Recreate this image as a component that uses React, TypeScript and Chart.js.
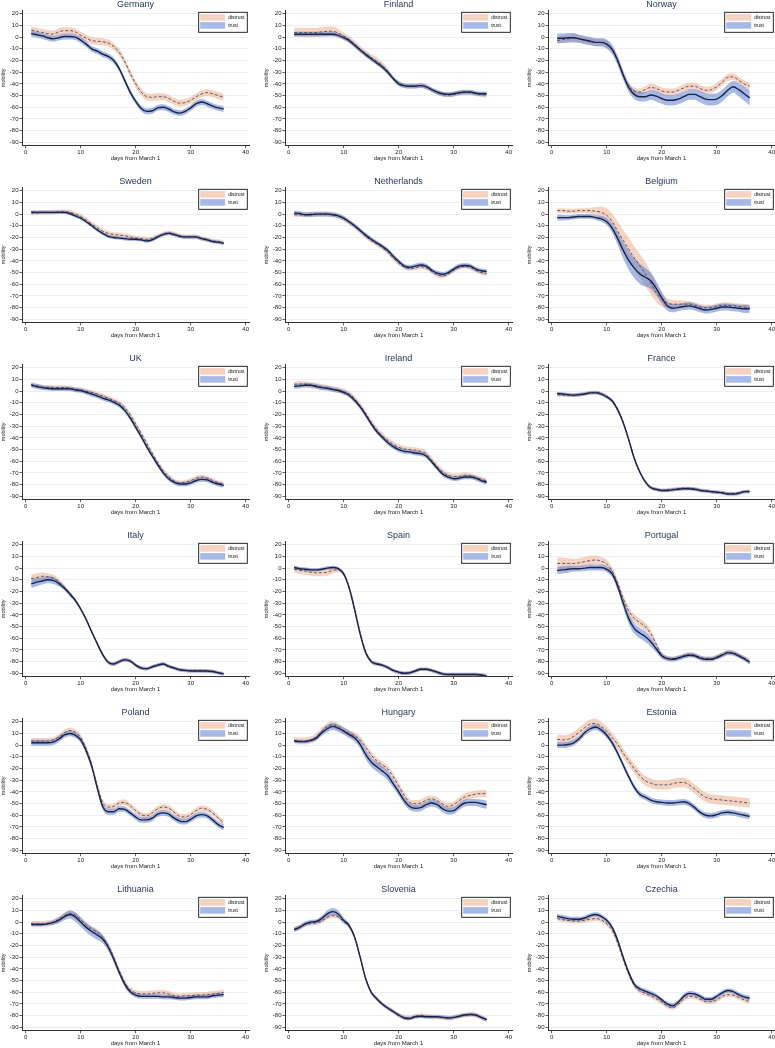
import React, { useEffect, useRef } from "react";
import { Chart, registerables } from "chart.js";

Chart.register(...registerables);

const FONT = "'Liberation Sans', Arial, Helvetica, sans-serif";

const days = [1, 2, 3, 4, 5, 6, 7, 8, 9, 10, 11, 12, 13, 14, 15, 16, 17, 18, 19, 20, 21, 22, 23, 24, 25, 26, 27, 28, 29, 30, 31, 32, 33, 34, 35, 36];
const xTicks = [0, 10, 20, 30, 40];
const yTicks = [20, 10, 0, -10, -20, -30, -40, -50, -60, -70, -80, -90];
const seriesNames = ["distrust", "trust"];

const countries = ["Germany", "Finland", "Norway", "Sweden", "Netherlands", "Belgium", "UK", "Ireland", "France", "Italy", "Spain", "Portugal", "Poland", "Hungary", "Estonia", "Lithuania", "Slovenia", "Czechia"];

// ---- Germany
const germanyTrust = [3, 2, 1, -0.5, -1.5, -0.5, 0.5, 0.5, 0, -2.5, -6, -10, -12, -14.5, -16.5, -20, -27, -37, -47, -55, -61, -63.5, -63, -60.5, -60, -61.5, -64, -65, -63.5, -60.5, -57, -55.5, -57, -59, -60.5, -61.5];
const germanyDistrust = [6, 5, 4, 3, 2.5, 4.5, 5.5, 5.5, 4.5, 1.5, -1, -3, -3.5, -4, -5, -8, -13, -21, -31, -40, -47, -51, -51.5, -51, -51, -52.5, -55, -56.5, -56, -54, -51, -48.5, -47.5, -48.5, -50, -51.5];
const germanyTrustCi = 2.5;
const germanyDistrustCi = 3;

// ---- Finland
const finlandTrust = [2.5, 2.5, 2.5, 2.5, 2.5, 2.5, 2.5, 2.5, 1.5, -0.5, -3, -7, -11, -15, -18.5, -22, -25.5, -30, -35.5, -40, -41.5, -42, -42, -41.5, -42.5, -45, -47, -48.5, -49, -48.5, -47.5, -47, -47, -48, -48.5, -48.5];
const finlandDistrust = [4, 4, 4, 4, 4, 4.5, 5, 5, 3.5, 1, -2, -6, -10.5, -14, -17.5, -20.5, -24, -29, -35, -39, -41.5, -42, -42, -41.5, -42.5, -45, -47.5, -49, -49.5, -49, -48, -47.5, -47.5, -48.5, -49, -49.5];
const finlandTrustCi = 2;
const finlandDistrustCi = [4, 4, 4, 4, 4, 4, 4, 4, 3.5, 3, 3, 3, 3, 3, 3, 3, 3, 2.5, 2, 2, 2, 2, 2, 2, 2, 2, 2, 2, 2, 2, 2, 2, 2, 2, 2, 2.5];

// ---- Norway
const norwayTrust = [-1, -1, -0.5, -0.5, -1.5, -2.5, -3.5, -4.5, -4.5, -6, -10.5, -20, -32.5, -43, -49, -51, -51, -49.5, -50.5, -52.5, -54, -54, -53, -51, -49, -49, -51, -53, -53.5, -53, -50, -45.5, -42.5, -45, -48.5, -52];
const norwayDistrust = [-3, -2, -1.5, -0.5, -1.5, -2.5, -3.5, -4.5, -4.5, -6, -11, -20.5, -32.5, -42, -46, -47, -45, -43, -44, -46, -47, -47, -45.5, -43.5, -42, -42, -44, -45.5, -45, -42.5, -38.5, -34.5, -34, -37, -40, -42];
const norwayTrustCi = [4, 4, 4, 4, 3.5, 3.5, 3.5, 3.5, 3.5, 4, 4, 4, 4, 4, 4, 4, 4, 4, 4.5, 4.5, 4.5, 4.5, 4.5, 4.5, 4.5, 4.5, 5, 5, 5, 5, 5, 5, 5, 5.5, 6, 6.5];
const norwayDistrustCi = 3;

// ---- Sweden
const swedenTrust = [1.7, 1.5, 1.5, 1.5, 1.5, 1.5, 1.5, 0.5, -1.5, -3.5, -6.5, -10, -13.5, -16.5, -19, -20, -20.5, -21, -21.5, -21.5, -22, -23, -22, -19.5, -17.5, -16.5, -17.5, -19, -19.5, -19.5, -19.5, -21, -22, -23.5, -24, -25];
const swedenDistrust = [1, 1, 1.5, 1.5, 1.5, 2, 2, 1.5, 0, -2, -5, -8.5, -11.5, -14.5, -16.5, -17.5, -18, -18.5, -19.5, -20.5, -21, -21.5, -21, -19, -17, -16, -17, -18.5, -19.5, -19.5, -19.5, -21, -22, -23, -23.5, -24.5];
const swedenTrustCi = 1.5;
const swedenDistrustCi = 2;

// ---- Netherlands
const netherlandsTrust = [1, 0.5, -0.5, -0.5, 0, 0, 0, -0.5, -1.5, -3.5, -6.5, -10, -14, -18, -21.5, -24.5, -27.5, -31, -36, -40.5, -44.5, -45.5, -44.5, -43.5, -44.5, -48, -50.5, -51.5, -50, -47, -44.5, -44, -44.5, -47, -48.5, -49];
const netherlandsDistrust = [-0.5, -0.5, -0.5, 0, 0, 0, 0, -0.5, -1.5, -4, -7, -10.5, -14.5, -19, -22.5, -25.5, -28.5, -32.5, -37.5, -42, -45, -46.5, -46, -45, -46, -49, -52, -53, -51, -48, -45.5, -44.5, -45.5, -48, -50, -51];
const netherlandsTrustCi = 2;
const netherlandsDistrustCi = 2;

// ---- Belgium
const belgiumTrust = [-3, -3, -3, -2.5, -2, -2, -2, -3, -4, -6.5, -12, -21, -31, -39.5, -46, -51, -54, -57, -63.5, -71.5, -78.5, -80.5, -80, -79, -78.5, -79.5, -81, -82, -81.5, -80.5, -79.5, -79.5, -80, -80.5, -81, -81];
const belgiumDistrust = [3, 3, 2.5, 2.5, 3, 3, 3, 2.5, 1.5, -1, -6.5, -14.5, -22.5, -30, -37.5, -44, -51, -59, -67, -73, -76, -77, -77, -77, -77, -78, -79.5, -80, -80, -79, -78, -78, -78.5, -79, -79.5, -80];
const belgiumTrustCi = [2.5, 2.5, 2, 2, 2, 2, 2, 2, 2.5, 3, 4, 5.5, 7, 8, 8.5, 8.5, 8, 7, 6, 5, 4, 3.5, 3, 3, 3, 3, 3, 3, 3, 3, 3, 3, 3, 3, 3.5, 3.5];
const belgiumDistrustCi = [2, 2, 2, 2, 2, 2, 2.5, 3.5, 5, 6, 7, 8, 9, 9.5, 10, 10, 10, 9.5, 8, 6, 4, 3.5, 3, 3, 2.5, 2.5, 2.5, 2.5, 2.5, 2.5, 2.5, 2.5, 2.5, 2.5, 2.5, 2.5];

// ---- UK
const ukTrust = [5, 4, 3, 2.5, 2, 2, 2, 2, 1, 0.5, -1, -2.5, -4, -6, -7.5, -9.5, -12, -16.5, -23, -31, -39, -47.5, -55.5, -63, -70, -75, -78, -79.5, -79.5, -78.5, -76.5, -75.5, -76, -78, -79.5, -80.5];
const ukDistrust = [5.5, 4.5, 3.5, 3, 3, 3, 3, 2.5, 1.5, 1, 0, -1, -2.5, -4, -6, -8, -10, -14, -20, -28, -36, -44.5, -53, -61, -68, -73, -77, -78.5, -78, -76.5, -74.5, -73.5, -74.5, -76.5, -78.5, -80];
const ukTrustCi = 2;
const ukDistrustCi = 2;

// ---- Ireland
const irelandTrust = [4, 4.5, 5, 5, 4, 3, 2.5, 1.5, 0.5, -1, -3.5, -8, -13.5, -20.5, -28, -34.5, -39.5, -44, -47.5, -50, -51.5, -52, -53, -53.5, -55.5, -60.5, -66, -71, -73.5, -75, -74.5, -73.5, -73.5, -74.5, -76.5, -78];
const irelandDistrust = [6, 6, 6, 5, 4.5, 3.5, 2.5, 1.5, 1, -0.5, -2.5, -6.5, -12.5, -19, -26.5, -33, -38, -42, -45.5, -48, -49.5, -50, -50.5, -51.5, -53.5, -59, -64.5, -69, -72, -73, -73, -72, -72.5, -74, -75.5, -77];
const irelandTrustCi = 2;
const irelandDistrustCi = 2.5;

// ---- France
const franceTrust = [-2, -2.5, -3, -3.5, -3, -2.5, -1.5, -1.5, -2.5, -5, -8.5, -16, -27, -41.5, -57.5, -69, -77.5, -82.5, -84, -85, -85, -84.5, -84, -83.5, -83.5, -84, -85, -85.5, -86, -86.5, -87, -88, -88, -87.5, -86, -86];
const franceDistrust = [-3, -3.5, -3.5, -3.5, -3, -2.5, -1.5, -1, -2, -4.5, -8, -15.5, -26.5, -41, -57, -69, -77.5, -82.5, -84, -85, -84.5, -84, -83.5, -83, -83, -83.5, -84.5, -85.5, -86, -86.5, -87, -87.5, -87.5, -87, -86, -85.5];
const franceTrustCi = 1.5;
const franceDistrustCi = 1.5;

// ---- Italy
const italyTrust = [-13.5, -12, -11, -10, -10.5, -13, -17, -22, -27.5, -35, -44, -54.5, -64.5, -74, -80.5, -82, -80, -78.5, -79.5, -83, -85.5, -86, -84.5, -83, -82, -84, -85.5, -87, -87.5, -88, -88, -88, -88, -88.5, -89.5, -90.5];
const italyDistrust = [-9, -8, -7, -7.5, -8.5, -11.5, -16, -21.5, -27.5, -35, -44, -54.5, -64.5, -74, -80.5, -82, -80, -78.5, -79.5, -83, -85.5, -86, -84.5, -83, -82, -84, -85.5, -87, -87.5, -87.5, -87.5, -87.5, -88, -88.5, -89.5, -90.5];
const italyTrustCi = [3.5, 3.5, 3, 3, 3, 2.5, 2, 2, 1.5, 1.5, 1.5, 1.5, 1.5, 1.5, 1.5, 1.5, 1.5, 1.5, 1.5, 1.5, 1.5, 1.5, 1.5, 1.5, 1.5, 1.5, 1.5, 1.5, 1.5, 1.5, 1.5, 1.5, 1.5, 1.5, 1.5, 1.5];
const italyDistrustCi = [3.5, 3.5, 3.5, 3, 3, 2.5, 2, 2, 1.5, 1.5, 1.5, 1.5, 1.5, 1.5, 1.5, 1.5, 1.5, 1.5, 1.5, 1.5, 1.5, 1.5, 1.5, 1.5, 1.5, 1.5, 1.5, 1.5, 1.5, 1.5, 1.5, 1.5, 1.5, 1.5, 1.5, 1.5];

// ---- Spain
const spainTrust = [0.5, -0.5, -1, -1.5, -1.5, -1, 0, 0.5, -0.5, -5, -17, -36, -56.5, -72.5, -80, -82, -83, -85, -87.5, -89, -90, -89.5, -88, -86.5, -86.5, -87.5, -89, -90.5, -91, -91, -91, -91, -91, -91, -91.5, -92.5];
const spainDistrust = [-1, -2, -2.5, -3.5, -4, -4, -3.5, -2, -1.5, -5, -16.5, -34.5, -55, -71, -79.5, -81.5, -83, -85, -87.5, -89, -90, -89.5, -88, -86.5, -86.5, -87.5, -89, -90.5, -91, -91, -91, -91, -91, -91, -91.5, -92.5];
const spainTrustCi = 1.5;
const spainDistrustCi = [3, 3, 3, 3, 3, 3, 3, 2.5, 2, 2, 2, 2, 2, 2, 2, 1.5, 1.5, 1.5, 1.5, 1.5, 1.5, 1.5, 1.5, 1.5, 1.5, 1.5, 1.5, 1.5, 1.5, 1.5, 1.5, 1.5, 1.5, 1.5, 1.5, 1.5];

// ---- Portugal
const portugalTrust = [-2, -1.5, -1, -0.5, -0.5, 0, 0.5, 0.5, 0.5, -1, -5, -15.5, -30, -43, -51.5, -55.5, -58.5, -63, -69, -75, -77.5, -78, -77, -75.5, -74.5, -75, -77, -78, -78, -76.5, -74.5, -72.5, -73, -75, -77.5, -80.5];
const portugalDistrust = [4, 4, 4, 4, 4.5, 5.5, 6.5, 7, 6, 3.5, -2.5, -13, -26, -36.5, -43, -46.5, -50, -56, -65, -74, -77, -77.5, -76.5, -75, -74, -74.5, -76.5, -77.5, -77.5, -76, -74, -72, -72.5, -74.5, -77, -80];
const portugalTrustCi = [3, 3, 3, 2.5, 2.5, 2.5, 2.5, 2.5, 2.5, 2.5, 3, 3.5, 4, 4.5, 4.5, 4.5, 4.5, 4, 3, 2.5, 2, 2, 2, 2, 2, 2, 2, 2, 2, 2, 2, 2, 2, 2, 2, 2];
const portugalDistrustCi = [5, 5, 4.5, 4, 4, 4, 4, 3.5, 3.5, 3.5, 3.5, 3.5, 3.5, 3.5, 3.5, 3.5, 3.5, 3, 2.5, 2, 2, 2, 2, 2, 2, 2, 2, 2, 2, 2, 2, 2, 2, 2, 2, 2];

// ---- Poland
const polandTrust = [2, 2, 2, 2, 2.5, 5, 8.5, 10, 8.5, 4.5, -5, -18, -36.5, -52.5, -57, -57, -54.5, -55, -58, -61.5, -64, -64, -62.5, -59, -58, -59, -62.5, -65, -65.5, -63.5, -60.5, -59.5, -60.5, -64, -68, -70.5];
const polandDistrust = [3.5, 3.5, 3.5, 3.5, 4.5, 7, 10.5, 12.5, 11, 6.5, -3, -16.5, -34.5, -49, -53, -52.5, -49.5, -49, -52, -56, -59.5, -60.5, -58, -54.5, -53, -54, -57.5, -61, -61.5, -59.5, -56, -54, -55, -58, -62.5, -66.5];
const polandTrustCi = 2.5;
const polandDistrustCi = 2.5;

// ---- Hungary
const hungaryTrust = [3.5, 3, 3, 4, 6, 10.5, 14, 16, 14.5, 12, 9, 6, 0.5, -8, -14.5, -18.5, -22, -26, -33, -40, -47.5, -52.5, -54, -53.5, -51, -49.5, -51, -54.5, -56.5, -56, -52.5, -49.5, -49, -49, -50, -51];
const hungaryDistrust = [4, 3.5, 3.5, 4.5, 7, 12, 16, 17.5, 16, 12.5, 10, 8, 4.5, -2, -8.5, -13.5, -17, -20.5, -27, -35, -43, -49, -50, -49.5, -47, -46, -47.5, -50.5, -52.5, -51, -47.5, -44.5, -43, -42, -41.5, -41.5];
const hungaryTrustCi = [1.5, 1.5, 1.5, 1.5, 2, 2.5, 3, 3, 3, 3, 3, 3, 3.5, 4, 4, 4, 4, 4, 3.5, 3, 3, 3, 3, 3, 3, 3, 3, 3, 3, 3, 3, 3, 3, 3, 3.5, 3.5];
const hungaryDistrustCi = 3;

// ---- Estonia
const estoniaTrust = [0, 0, 0.5, 2, 5.5, 10.5, 14, 15.5, 13, 8.5, 2, -7, -17, -27, -36, -42, -44.5, -47, -48.5, -49, -49.5, -49.5, -49, -48.5, -50, -53.5, -57.5, -60, -60.5, -59.5, -58, -57.5, -58, -59, -60, -61];
const estoniaDistrust = [5, 4.5, 5, 7.5, 11, 15, 18, 18.5, 16, 12, 6.5, 0.5, -7, -13.5, -20, -26, -30.5, -32.5, -34, -34, -34, -33, -32, -32, -34, -37.5, -41.5, -44.5, -46, -46.5, -47, -47.5, -48, -48.5, -49, -49.5];
const estoniaTrustCi = 2.5;
const estoniaDistrustCi = 4;

// ---- Lithuania
const lithuaniaTrust = [-2, -2, -2, -1.5, -0.5, 1.5, 4.5, 6.5, 4.5, 0, -4.5, -8, -11, -14.5, -21.5, -31.5, -43, -53, -59.5, -62.5, -63.5, -63.5, -63.5, -63.5, -64, -64, -64.5, -65, -65, -64.5, -64, -64, -64, -63, -62.5, -62];
const lithuaniaDistrust = [-1.5, -1.5, -1.5, -1, 0, 2.5, 5.5, 7.5, 6, 2, -2.5, -6, -8.5, -13, -20, -30, -41.5, -51.5, -58, -60.5, -61.5, -61.5, -61, -60.5, -60.5, -61.5, -63, -63.5, -63, -63, -62.5, -62.5, -62, -61.5, -61, -60];
const lithuaniaTrustCi = [1.5, 1.5, 1.5, 1.5, 2, 2.5, 3, 3.5, 4, 4, 4, 4, 4, 3.5, 3, 3, 2.5, 2.5, 2, 2, 2, 2, 2, 2, 2, 2, 2, 2, 2, 2, 2, 2, 2, 2, 2, 2];
const lithuaniaDistrustCi = 2.5;

// ---- Slovenia
const sloveniaTrust = [-6.5, -4.5, -1.5, 0, 0.5, 3, 7, 9, 7, 1.5, -3, -13, -30, -48.5, -60, -65.5, -70, -73.5, -76.5, -79.5, -82, -82.5, -81, -80.5, -81, -81, -81, -81.5, -82, -81.5, -80.5, -79.5, -79, -79.5, -81.5, -83.5];
const sloveniaDistrust = [-6, -4, -2, -1, -0.5, 1, 4, 5.5, 4.5, 0.5, -3.5, -13.5, -30.5, -48.5, -60, -65.5, -70, -73.5, -76.5, -79.5, -81.5, -82, -80.5, -80, -80.5, -81, -81, -81.5, -82, -81.5, -80.5, -79.5, -79, -79.5, -81.5, -83.5];
const sloveniaTrustCi = [2, 2, 2, 2, 2, 2.5, 3, 3, 3, 2.5, 2, 1.5, 1.5, 1.5, 1.5, 1.5, 1.5, 1.5, 1.5, 1.5, 1.5, 1.5, 1.5, 1.5, 1.5, 1.5, 1.5, 1.5, 1.5, 1.5, 1.5, 1.5, 1.5, 1.5, 1.5, 1.5];
const sloveniaDistrustCi = 2;

// ---- Czechia
const czechiaTrust = [5, 4, 3, 2.5, 2.5, 3.5, 5.5, 6.5, 5, 1.5, -4.5, -15.5, -30, -43, -53, -57, -59, -61, -63, -66.5, -70, -71.5, -68.5, -63.5, -61, -61.5, -63.5, -66, -66, -63.5, -60.5, -58.5, -59.5, -62, -64, -65];
const czechiaDistrust = [3, 2, 1.5, 1, 1, 1.5, 2.5, 3, 2, -1.5, -7, -18, -32, -44.5, -54, -59, -61, -63, -65.5, -68.5, -72, -73, -70.5, -66, -63.5, -64, -66, -68, -68, -66.5, -63.5, -62, -62.5, -64.5, -66.5, -68];
const czechiaTrustCi = 2;
const czechiaDistrustCi = 2;

type Ci = number | number[];
type PanelData = { trust: number[]; distrust: number[]; trustCi: Ci; distrustCi: Ci };

const panelData: PanelData[] = [
  { trust: germanyTrust, distrust: germanyDistrust, trustCi: germanyTrustCi, distrustCi: germanyDistrustCi },
  { trust: finlandTrust, distrust: finlandDistrust, trustCi: finlandTrustCi, distrustCi: finlandDistrustCi },
  { trust: norwayTrust, distrust: norwayDistrust, trustCi: norwayTrustCi, distrustCi: norwayDistrustCi },
  { trust: swedenTrust, distrust: swedenDistrust, trustCi: swedenTrustCi, distrustCi: swedenDistrustCi },
  { trust: netherlandsTrust, distrust: netherlandsDistrust, trustCi: netherlandsTrustCi, distrustCi: netherlandsDistrustCi },
  { trust: belgiumTrust, distrust: belgiumDistrust, trustCi: belgiumTrustCi, distrustCi: belgiumDistrustCi },
  { trust: ukTrust, distrust: ukDistrust, trustCi: ukTrustCi, distrustCi: ukDistrustCi },
  { trust: irelandTrust, distrust: irelandDistrust, trustCi: irelandTrustCi, distrustCi: irelandDistrustCi },
  { trust: franceTrust, distrust: franceDistrust, trustCi: franceTrustCi, distrustCi: franceDistrustCi },
  { trust: italyTrust, distrust: italyDistrust, trustCi: italyTrustCi, distrustCi: italyDistrustCi },
  { trust: spainTrust, distrust: spainDistrust, trustCi: spainTrustCi, distrustCi: spainDistrustCi },
  { trust: portugalTrust, distrust: portugalDistrust, trustCi: portugalTrustCi, distrustCi: portugalDistrustCi },
  { trust: polandTrust, distrust: polandDistrust, trustCi: polandTrustCi, distrustCi: polandDistrustCi },
  { trust: hungaryTrust, distrust: hungaryDistrust, trustCi: hungaryTrustCi, distrustCi: hungaryDistrustCi },
  { trust: estoniaTrust, distrust: estoniaDistrust, trustCi: estoniaTrustCi, distrustCi: estoniaDistrustCi },
  { trust: lithuaniaTrust, distrust: lithuaniaDistrust, trustCi: lithuaniaTrustCi, distrustCi: lithuaniaDistrustCi },
  { trust: sloveniaTrust, distrust: sloveniaDistrust, trustCi: sloveniaTrustCi, distrustCi: sloveniaDistrustCi },
  { trust: czechiaTrust, distrust: czechiaDistrust, trustCi: czechiaTrustCi, distrustCi: czechiaDistrustCi },
];

const PANEL_W = 263;
const PANEL_H = 177;
const DISTRUST_FILL = "rgba(230,150,112,0.42)";
const TRUST_FILL = "rgba(95,128,210,0.55)";
const TRUST_LINE = "#1a2344";
const DISTRUST_LINE = "#3b3b46";
const TEXT = "#222";
const TITLE = "#1f3350";

const ciAt = (ci: Ci, i: number) => (Array.isArray(ci) ? ci[i] : ci);

function Panel({ title, data, left, top }: { title: string; data: PanelData; left: number; top: number }) {
  const ref = useRef<HTMLCanvasElement>(null);
  useEffect(() => {
    const canvas = ref.current;
    if (!canvas) return;
    const mean = (arr: number[]) => days.map((d, i) => ({ x: d, y: arr[i] }));
    const band = (arr: number[], ci: Ci, s: number) => days.map((d, i) => ({ x: d, y: arr[i] + s * ciAt(ci, i) }));
    const common = { pointRadius: 0, cubicInterpolationMode: "monotone" as const };
    const decor = {
      id: "decor",
      afterDraw(chart: any) {
        const ctx = chart.ctx;
        const ca = chart.chartArea;
        ctx.save();
        // title
        ctx.fillStyle = TITLE;
        ctx.font = `9px ${FONT}`;
        ctx.textAlign = "center";
        ctx.textBaseline = "middle";
        ctx.fillText(title, (ca.left + ca.right) / 2, 4.5);
        // x title
        ctx.fillStyle = TEXT;
        ctx.font = `6px ${FONT}`;
        ctx.fillText("days from March 1", (ca.left + ca.right) / 2, 158);
        // y title
        ctx.save();
        ctx.translate(3.3, (ca.top + ca.bottom) / 2);
        ctx.rotate(-Math.PI / 2);
        ctx.font = `5.5px ${FONT}`;
        ctx.fillText("mobility", 0, 0);
        ctx.restore();
        // legend
        const bx = ca.right - 50.3;
        const by = ca.top + 2.3;
        const bw = 48.6;
        const bh = 20;
        ctx.fillStyle = "#fff";
        ctx.fillRect(bx, by, bw, bh);
        ctx.strokeStyle = "#111";
        ctx.lineWidth = 0.9;
        ctx.strokeRect(bx, by, bw, bh);
        const fills = [DISTRUST_FILL, TRUST_FILL];
        ctx.font = `5px ${FONT}`;
        ctx.textAlign = "left";
        seriesNames.forEach((name, k) => {
          const sy = by + 1.8 + k * 8;
          ctx.fillStyle = fills[k];
          ctx.fillRect(bx + 1.5, sy, 25, 6.6);
          ctx.fillStyle = "#111";
          ctx.fillText(name, bx + 29.5, sy + 3.4);
        });
        ctx.restore();
      },
    };
    const chart = new Chart(canvas, {
      type: "line",
      data: {
        datasets: [
          { ...common, label: "trust", data: mean(data.trust), borderColor: TRUST_LINE, borderWidth: 1.4, fill: false },
          { ...common, label: "distrust", data: mean(data.distrust), borderColor: DISTRUST_LINE, borderWidth: 0.8, borderDash: [3, 2], fill: false },
          { ...common, label: "trustHi", data: band(data.trust, data.trustCi, 1), borderWidth: 0, borderColor: "rgba(0,0,0,0)", backgroundColor: TRUST_FILL, fill: "+1" },
          { ...common, label: "trustLo", data: band(data.trust, data.trustCi, -1), borderWidth: 0, borderColor: "rgba(0,0,0,0)", fill: false },
          { ...common, label: "distrustHi", data: band(data.distrust, data.distrustCi, 1), borderWidth: 0, borderColor: "rgba(0,0,0,0)", backgroundColor: DISTRUST_FILL, fill: "+1" },
          { ...common, label: "distrustLo", data: band(data.distrust, data.distrustCi, -1), borderWidth: 0, borderColor: "rgba(0,0,0,0)", fill: false },
        ],
      },
      options: {
        responsive: false,
        animation: false,
        devicePixelRatio: 1,
        events: [],
        layout: { padding: { left: 0, top: 10, right: PANEL_W - 249, bottom: 0 } },
        plugins: { legend: { display: false }, tooltip: { enabled: false }, title: { display: false } },
        scales: {
          x: {
            type: "linear",
            min: -0.67,
            max: 40.6,
            afterFit: (s: any) => {
              s.height = PANEL_H - 145.7;
            },
            afterBuildTicks: (s: any) => {
              s.ticks = xTicks.map((v) => ({ value: v }));
            },
            ticks: { font: { size: 6, family: FONT }, color: TEXT, padding: 0.5, maxRotation: 0, autoSkip: false },
            grid: { drawOnChartArea: false, drawTicks: true, tickLength: 2.5, tickColor: "#333", tickWidth: 0.8 },
            border: { color: "#333", width: 1 },
          },
          y: {
            type: "linear",
            min: -92.9,
            max: 23.2,
            afterFit: (s: any) => {
              s.width = 22;
            },
            afterBuildTicks: (s: any) => {
              s.ticks = yTicks.map((v) => ({ value: v }));
            },
            ticks: { font: { size: 6, family: FONT }, color: TEXT, padding: 1, autoSkip: false },
            grid: { color: "#e7ecf0", lineWidth: 0.8, drawTicks: true, tickLength: 2.5, tickColor: "#333", tickWidth: 0.8 },
            border: { color: "#333", width: 1 },
          },
        },
      } as any,
      plugins: [decor],
    });
    return () => chart.destroy();
  }, [title, data]);
  return (
    <div style={{ position: "absolute", left, top, width: PANEL_W, height: PANEL_H }}>
      <canvas ref={ref} width={PANEL_W} height={PANEL_H} style={{ display: "block", width: PANEL_W, height: PANEL_H }} />
    </div>
  );
}

export default function App() {
  return (
    <div style={{ position: "absolute", left: 0, top: 0, width: 775, height: 1048, overflow: "hidden", background: "#fff" }}>
      {countries.map((c, i) => (
        <Panel key={c} title={c} data={panelData[i]} left={(i % 3) * PANEL_W} top={Math.floor(i / 3) * PANEL_H} />
      ))}
    </div>
  );
}
